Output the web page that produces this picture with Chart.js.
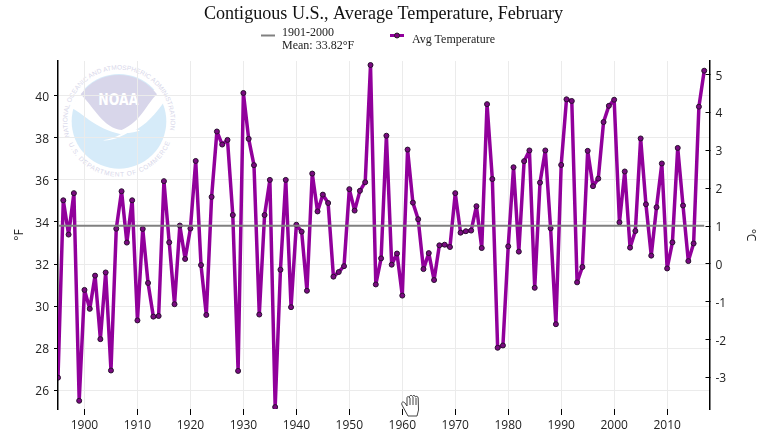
<!DOCTYPE html>
<html><head><meta charset="utf-8">
<style>
html,body{margin:0;padding:0;background:#fff;width:767px;height:446px;overflow:hidden}
#wrap{position:relative;width:767px;height:446px}
#bg,#fg{position:absolute;left:0;top:0}
#fg{pointer-events:none}
canvas{position:absolute;left:0;top:0}
</style>
<script src="https://cdn.jsdelivr.net/npm/chart.js@4"></script>
</head><body>
<div id="wrap">
<svg id="bg" width="767" height="446" viewBox="0 0 767 446">
  <g transform="translate(40,60) scale(0.3333)">
    <defs>
      <path id="ringTop" d="M 89 230 A 155 155 0 1 1 385 230"/>
      <path id="ringBot" d="M 85.4 251.6 A 166 166 0 0 0 388.6 251.6"/>
    </defs>
    <circle cx="237" cy="184" r="142" fill="#d6ebf9"/>
    <path d="M 96 145 C 135 165 165 205 240 222 C 300 222 345 165 378 118 L 355 90 L 120 90 Z" fill="#fff"/>
    <path d="M 122 103 A 142 142 0 0 1 351 103 C 320 130 305 185 245 210 C 190 205 165 145 122 103 Z" fill="#d8d6ea"/>
    <path d="M 188 241 C 225 235 245 222 262 210 C 280 208 292 208 300 212 C 285 215 275 218 262 219 C 240 232 215 243 188 241 Z" fill="#fff"/>
    <text x="235" y="135" font-family="DejaVu Sans" font-weight="bold" font-size="50" fill="#fff" textLength="120" lengthAdjust="spacingAndGlyphs" text-anchor="middle">NOAA</text>
    <text font-family="Liberation Sans" font-size="19.5" letter-spacing="0.2" fill="#d8d7ea"><textPath href="#ringTop">NATIONAL OCEANIC AND ATMOSPHERIC ADMINISTRATION</textPath></text>
    <text font-family="Liberation Sans" font-size="19.5" letter-spacing="2.2" fill="#d8d7ea"><textPath href="#ringBot">U.S. DEPARTMENT OF COMMERCE</textPath></text>
  </g>
</svg>
<canvas id="c" width="767" height="446"></canvas>
<svg id="fg" width="767" height="446" viewBox="0 0 767 446">
  <line x1="261" y1="35.5" x2="275" y2="35.5" stroke="#808080" stroke-width="2"/>
  <text font-family="Liberation Serif" font-size="12" fill="#222"><tspan x="282" y="36">1901-2000</tspan><tspan x="282" y="48.5">Mean: 33.82°F</tspan></text>
  <line x1="390" y1="35.5" x2="404" y2="35.5" stroke="#91009b" stroke-width="3"/>
  <circle cx="397" cy="35.5" r="2.5" fill="#800080" stroke="#222" stroke-width="1"/>
  <text x="412" y="43" font-family="Liberation Serif" font-size="12" fill="#222">Avg Temperature</text>
  <path d="M 408 416 L 402 405 C 401 402 403 401 405 403 L 407 406 L 407 398 C 407 396 409 396 409.5 398 L 409.5 396.5 C 410 395 412 395 412.5 396.5 L 412.5 396.5 C 413 395 415 395 415.5 397 C 416 396 418 396 418.2 398 L 418.5 410 L 417 416 Z" fill="#fff" stroke="#444" stroke-width="1"/>
  <path d="M 410 398 V 405 M 413 397 V 405 M 416 398 V 405" stroke="#444" stroke-width="1" fill="none"/>
</svg>
</div>
<script>
const chartTitle = "Contiguous U.S., Average Temperature, February";
const firstYear = 1895;
const avgTemperature = [
26.6,35.03,33.4,35.37,25.5,30.77,29.87,31.45,28.43,31.6,26.94,33.68,35.46,33.02,35.03,29.32,33.67,31.1,29.5,29.53,
35.94,33.03,30.09,33.83,32.24,33.69,36.9,31.95,29.58,35.19,38.3,37.68,37.9,34.33,26.92,40.13,37.95,36.7,29.6,34.33,
36.0,25.2,31.73,36.0,29.95,33.87,33.54,30.73,36.3,34.5,35.3,34.9,31.4,31.62,31.9,35.56,34.54,35.48,35.89,41.46,
31.03,32.27,38.1,31.97,32.5,30.5,37.44,34.92,34.13,31.76,32.52,31.24,32.89,32.92,32.81,35.37,33.49,33.56,33.59,34.75,
32.76,39.6,36.04,28.02,28.13,32.84,36.6,32.59,36.89,37.4,30.87,35.87,37.4,33.7,29.14,36.71,39.83,39.75,31.13,31.86,
37.38,35.7,36.06,38.75,39.52,39.81,33.98,36.4,32.78,33.57,37.97,34.84,32.4,34.7,36.78,31.79,33.03,37.52,34.78,32.14,
32.98,39.48,41.19];
const meanYears = [1895, 2017];
const meanValue = [33.82, 33.82];
const yearTicks = [1900,1910,1920,1930,1940,1950,1960,1970,1980,1990,2000,2010];
const fahrenheitTicks = [26,28,30,32,34,36,38,40];
const celsiusTicks = [-3,-2,-1,0,1,2,3,4,5];
const xRange = [1895, 2018];
const fRange = [25.11, 41.65];
const cRange = [-3.83, 5.36];

const tickFont = {family:"'Open Sans'", size:12};
const yTickFont = {family:"'Open Sans'", size:12, lineHeight:0.25};
const setTicks = list => scale => { scale.ticks = list.map(v => ({value:v})); };
Chart.defaults.animation = false;

new Chart(document.getElementById('c'), {
  type:'line',
  data:{datasets:[
    {label:'1901-2000 Mean: 33.82°F', data:meanYears.map((x,i)=>({x,y:meanValue[i]})), borderColor:'#808080', borderWidth:2.2, pointRadius:0, order:0, yAxisID:'y'},
    {label:'Avg Temperature', data:avgTemperature.map((y,i)=>({x:firstYear+i,y})), borderColor:'#91009b', borderWidth:3.5, tension:0, borderJoinStyle:'round',
     pointRadius:2.5, pointBackgroundColor:'#7a0a80', pointBorderColor:'#2a1030', pointBorderWidth:1, order:1, yAxisID:'y'}
  ]},
  options:{
    responsive:false, devicePixelRatio:1,
    layout:{padding:0},
    plugins:{
      legend:{display:false}, tooltip:{enabled:false},
      title:{display:true, text:chartTitle, color:'#111', font:{family:"'Liberation Serif'", size:18.1, weight:'normal'}, padding:{top:3,bottom:36.3}}
    },
    scales:{
      x:{type:'linear', min:xRange[0], max:xRange[1], afterBuildTicks:setTicks(yearTicks),
         afterFit:s=>{s.height=37;},
         border:{display:false},
         grid:{color:'#ebebeb', tickColor:'#000', tickLength:6, lineWidth:1},
         ticks:{font:tickFont, color:'#222', maxRotation:0, padding:3, callback:v=>String(v)}},
      y:{position:'left', min:fRange[0], max:fRange[1], afterBuildTicks:setTicks(fahrenheitTicks),
         afterFit:s=>{s.width=58;},
         border:{display:true,color:'#000',width:1.5},
         grid:{color:'#ebebeb', tickColor:'#000', tickLength:4},
         title:{display:true,text:'°F',color:'#222',font:tickFont,padding:{top:12,bottom:12}},
         ticks:{font:yTickFont,color:'#222',padding:5,callback:v=>['',String(v)]}},
      y2:{position:'right', min:cRange[0], max:cRange[1], afterBuildTicks:setTicks(celsiusTicks),
         afterFit:s=>{s.width=57.5;},
         border:{display:true,color:'#000',width:1.5},
         grid:{drawOnChartArea:false, tickColor:'#000', tickLength:-4},
         title:{display:true,text:'°C',color:'#222',font:tickFont,padding:{top:9,bottom:9}},
         ticks:{font:yTickFont,color:'#222',padding:10,callback:v=>['',String(v)]}}
    }
  }
});
</script>
</body></html>
